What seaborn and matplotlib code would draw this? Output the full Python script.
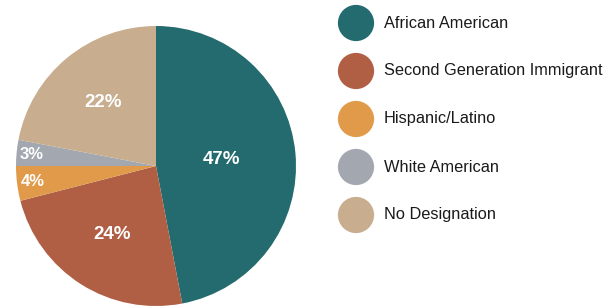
import numpy as np
import pandas as pd
import matplotlib.pyplot as plt
import seaborn as sns

# Data
groups = ['African American', 'Second Generation Immigrant', 'Hispanic/Latino',
          'White American', 'No Designation']
shares = [47, 24, 4, 3, 22]
colors = ['#236B6E', '#B05F45', '#E09A49', '#A3A8B0', '#C8AE8E']
label_radius = [0.47, 0.58, 0.89, 0.89, 0.59]

sns.set_theme(style='white')
plt.rcParams['font.family'] = ['Liberation Sans', 'DejaVu Sans']

W, H = 616, 307
fig = plt.figure(figsize=(W / 100, H / 100), dpi=100)

# Pie
ax = fig.add_axes([16 / W, 1 / H, 280 / W, 280 / H])
wedges, _ = ax.pie(shares, colors=colors, startangle=90, counterclock=False,
                   radius=1, wedgeprops=dict(linewidth=0))
for w, val, r in zip(wedges, shares, label_radius):
    mid = np.deg2rad((w.theta1 + w.theta2) / 2)
    ax.text(r * np.cos(mid), r * np.sin(mid), f'{val}%', ha='center', va='center',
            color='white', fontsize=13.5 if val > 5 else 12, fontweight='bold')
ax.set_xlim(-1, 1)
ax.set_ylim(-1, 1)
ax.set_aspect('equal')
ax.axis('off')

# Legend as a seaborn scatter
leg = pd.DataFrame({'group': groups, 'row': np.arange(len(groups))})
lax = fig.add_axes([0, 0, 1, 1])
lax.set_xlim(0, W)
lax.set_ylim(H, 0)
lax.axis('off')
leg['x'] = 356
leg['y'] = 23 + 48 * leg['row']
sns.scatterplot(data=leg, x='x', y='y', hue='group', palette=colors, s=680,
                linewidth=0, legend=False, ax=lax)
for _, row in leg.iterrows():
    lax.text(384, row['y'], row['group'], ha='left', va='center',
             fontsize=11.8, color='#1a1a1a')

fig.savefig('out.png', dpi=100)
